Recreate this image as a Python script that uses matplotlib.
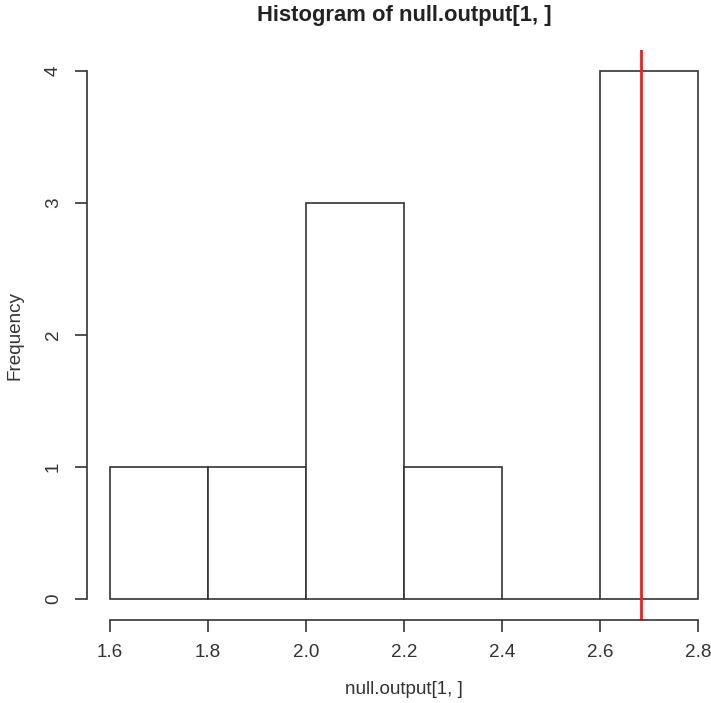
import matplotlib
matplotlib.use("Agg")
import matplotlib.pyplot as plt
import numpy as np

# Data
bin_edges = [1.6, 1.8, 2.0, 2.2, 2.4, 2.6, 2.8]
counts = [1, 1, 3, 1, 0, 4]
observed_value = 2.684
x_ticks = [1.6, 1.8, 2.0, 2.2, 2.4, 2.6, 2.8]
x_tick_labels = ["1.6", "1.8", "2.0", "2.2", "2.4", "2.6", "2.8"]
y_ticks = [0, 1, 2, 3, 4]
title = "Histogram of null.output[1, ]"
xlabel = "null.output[1, ]"
ylabel = "Frequency"

plt.rcParams['font.family'] = ['Liberation Sans', 'DejaVu Sans']

W, H = 711, 703
fig = plt.figure(figsize=(W / 100, H / 100), dpi=100)
fig.patch.set_facecolor('white')

left, right, top, bottom = 86.5, 721.5, 50, 620
ax = fig.add_axes([left / W, 1 - bottom / H, (right - left) / W, (bottom - top) / H])

line_col = '#333333'
edges = np.array(bin_edges)
ax.bar(edges[:-1], counts, width=np.diff(edges), align='edge',
       facecolor='white', edgecolor=line_col, linewidth=1.2)
ax.axvline(observed_value, color='#e8231f', linewidth=2.0)

xr = edges[-1] - edges[0]
ax.set_xlim(edges[0] - 0.04 * xr, edges[-1] + 0.04 * xr)
ax.set_ylim(-0.04 * max(y_ticks), max(y_ticks) * 1.04)

for s in ['top', 'right']:
    ax.spines[s].set_visible(False)
ax.spines['left'].set_bounds(y_ticks[0], y_ticks[-1])
ax.spines['bottom'].set_bounds(x_ticks[0], x_ticks[-1])
for s in ['left', 'bottom']:
    ax.spines[s].set_color(line_col)
    ax.spines[s].set_linewidth(1.2)

ax.set_xticks(x_ticks)
ax.set_xticklabels(x_tick_labels)
ax.set_yticks(y_ticks)
ax.set_yticklabels([str(v) for v in y_ticks], rotation=90, va='center')
ax.tick_params(axis='both', length=8.6, width=1.2, color=line_col,
               labelsize=13.6, labelcolor='#333333')
ax.tick_params(axis='x', pad=8.5)
ax.tick_params(axis='y', pad=9)

fig.text(404 / W, 1 - 16 / H, title, ha='center', va='center',
         fontsize=15.8, fontweight='bold', color='#222222')
fig.text(404 / W, 1 - 690 / H, xlabel, ha='center', va='center',
         fontsize=13.6, color='#333333')
fig.text(15 / W, 1 - 335 / H, ylabel, ha='center', va='center',
         rotation=90, fontsize=13.6, color='#333333')

fig.savefig('out.png', dpi=100)
